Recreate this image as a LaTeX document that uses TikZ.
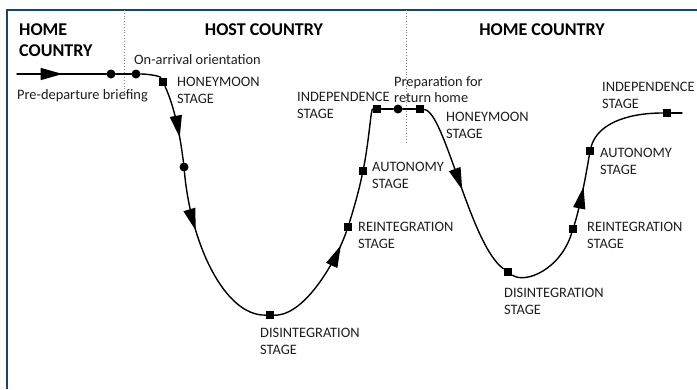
\documentclass[tikz,border=0pt]{standalone}
\usepackage{fontspec}
\setmainfont{Carlito}
\usetikzlibrary{arrows.meta,decorations.markings}
\definecolor{framecol}{RGB}{24,72,90}
\definecolor{txtcol}{RGB}{30,30,30}
\begin{document}
\begin{tikzpicture}[x=1pt,y=-1pt,
  curve/.style={line width=1.4pt,line cap=round},
  dotm/.style={circle,fill=black,inner sep=0pt,minimum size=9pt},
  sqm/.style={rectangle,fill=black,inner sep=0pt,minimum size=8.5pt},
  lbl/.style={anchor=north west,inner sep=0pt,align=left,text=txtcol,font=\fontsize{14.4}{16.5}\selectfont},
  ttl/.style={inner sep=0pt,align=left,text=black,font=\fontsize{18}{21}\selectfont\bfseries},
  arr/.style={postaction=decorate,decoration={markings,mark=at position #1 with {\arrow{Triangle[length=22pt,width=12pt]}}}},
  divider/.style={dotted,gray,line width=0.8pt},
  frameline/.style={framecol,line width=1.4pt}
]
\useasboundingbox (0,0) rectangle (697,389);
\draw[frameline] (697,10) -- (7,10) -- (7,389);
\draw[divider] (124,10) -- (124,92);
\draw[divider] (406,10) -- (406,143);

% markers
\coordinate (start) at (17,74);
\coordinate (end) at (682,113);
\node[dotm] (d1) at (111,74) {};
\node[dotm] (d2) at (136,74) {};
\node[sqm] (s1) at (163,82) {};
\node[dotm] (d3) at (184,167) {};
\node[sqm] (s2) at (270,315) {};
\node[sqm] (s3) at (348,227) {};
\node[sqm] (s4) at (363,171) {};
\node[sqm] (s5) at (377,109) {};
\node[dotm] (d4) at (398,109) {};
\node[sqm] (s6) at (420,109) {};
\node[sqm] (s7) at (508,272) {};
\node[sqm] (s8) at (573,229) {};
\node[sqm] (s9) at (590,151) {};
\node[sqm] (s10) at (667,113) {};

% curve
\draw[curve,arr=0.51] (start) -- (d1);
\draw[curve] (d1) -- (d2);
\draw[curve] (d2) .. controls (148,74) and (160,76) .. (s1);
\draw[curve,arr=0.68] (s1) .. controls (175,108) and (180.5,138) .. (d3);
\draw[curve,arr=0.34] (d3) .. controls (191,245) and (225,316) .. (s2);
\draw[curve,arr=0.87] (s2) .. controls (305,316) and (336.5,260) .. (s3);
\draw[curve] (s3) .. controls (354,208) and (359,190) .. (s4);
\draw[curve] (s4) .. controls (369,140) and (371,109) .. (s5);
\draw[curve] (s5) -- (d4);
\draw[curve] (d4) -- (s6);
\draw[curve,arr=0.5] (s6) .. controls (445,112) and (470,245) .. (s7);
\draw[curve] (s7) .. controls (525,284) and (560,270) .. (s8);
\draw[curve,arr=0.55] (s8) .. controls (580.5,205) and (586,175) .. (s9);
\draw[curve] (s9) .. controls (597,125) and (625,113) .. (s10);
\draw[curve] (s10) -- (end);

% titles
\node[ttl,anchor=north west] (t1) at (19,23) {HOME\\COUNTRY};
\node[ttl,anchor=north] (t2) at (264,23) {HOST COUNTRY};
\node[ttl,anchor=north] (t3) at (542,23) {HOME COUNTRY};

% labels
\node[lbl] (l1) at (134,54) {On-arrival orientation};
\node[lbl] (l2) at (17,89) {Pre-departure briefing};
\node[lbl] (l3) at (177,77) {HONEYMOON\\STAGE};
\node[lbl] (l4) at (297,92) {INDEPENDENCE\\STAGE};
\node[lbl] (l5) at (394,76) {Preparation for\\return home};
\node[lbl] (l6) at (446,112) {HONEYMOON\\STAGE};
\node[lbl] (l7) at (372,162) {AUTONOMY\\STAGE};
\node[lbl] (l8) at (358,222) {REINTEGRATION\\STAGE};
\node[lbl] (l9) at (260,328) {DISINTEGRATION\\STAGE};
\node[lbl] (l10) at (504,288) {DISINTEGRATION\\STAGE};
\node[lbl] (l11) at (587,222) {REINTEGRATION\\STAGE};
\node[lbl] (l12) at (600,148) {AUTONOMY\\STAGE};
\node[lbl] (l13) at (602,82) {INDEPENDENCE\\STAGE};
\end{tikzpicture}
\end{document}
